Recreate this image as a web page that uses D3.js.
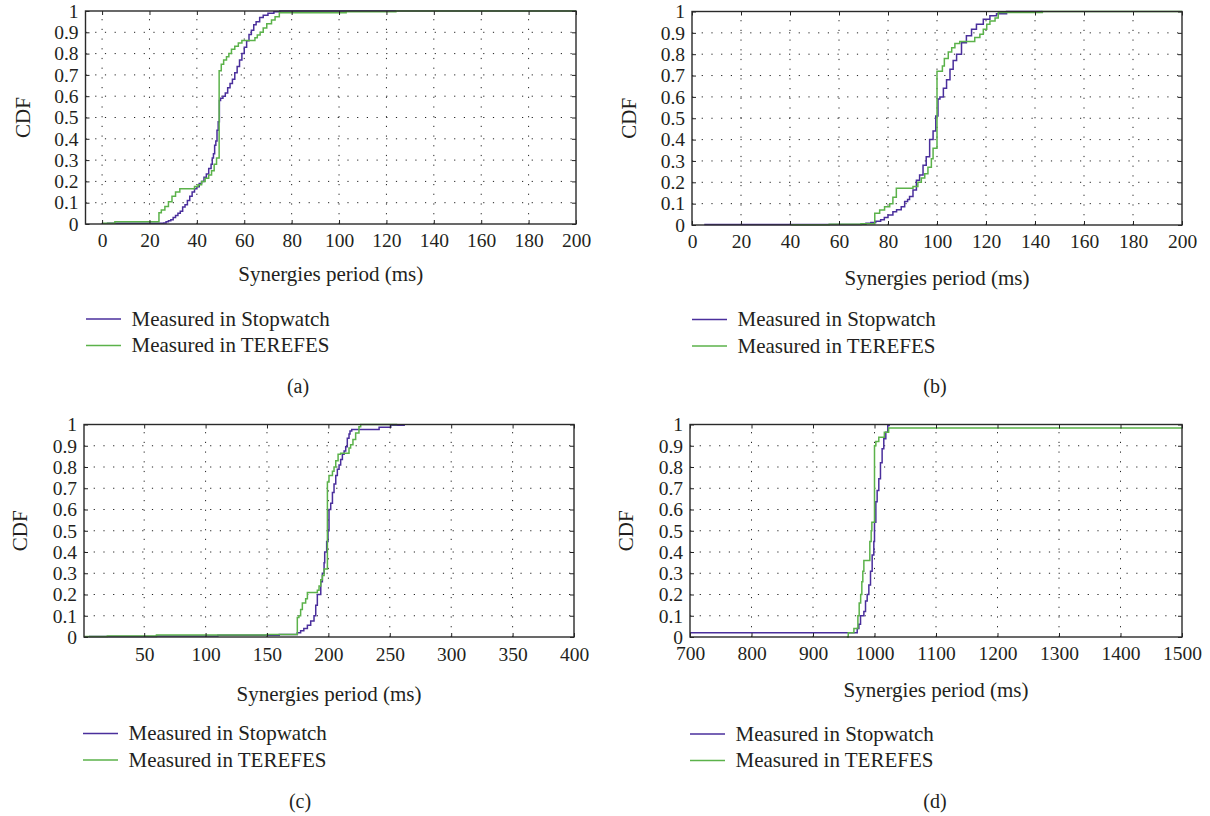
<!DOCTYPE html>
<html>
<head>
<meta charset="utf-8">
<script src="https://cdn.jsdelivr.net/npm/d3@7/dist/d3.min.js"></script>
<style>
  html, body { margin: 0; padding: 0; background: #fff; }
  svg { display: block; }
  text { font-family: "Liberation Serif", "Times New Roman", serif; fill: #231f20; }
</style>
</head>
<body>
<svg id="chart" width="1210" height="816"></svg>
<script>
// ---- Step points of the empirical CDFs (period in ms, cumulative fraction) ----

// (a) 50 ms period
const aStopX = [2, 26, 27, 28, 29, 30, 31, 32, 33, 34, 35, 36, 37, 38, 39, 40, 41, 42, 43, 44, 45, 46, 46.5, 47, 47.5, 48, 48.5, 49, 49.5, 50, 51, 52, 53, 54, 55, 56, 57, 58, 59, 60, 61, 62, 63, 64, 65, 66.5, 68, 70, 72.5, 75, 124];
const aStopY = [0.003, 0.005, 0.01, 0.015, 0.02, 0.03, 0.04, 0.05, 0.06, 0.08, 0.09, 0.11, 0.13, 0.15, 0.165, 0.175, 0.19, 0.2, 0.22, 0.235, 0.26, 0.28, 0.31, 0.33, 0.37, 0.39, 0.44, 0.48, 0.58, 0.59, 0.6, 0.615, 0.64, 0.66, 0.68, 0.71, 0.74, 0.77, 0.8, 0.83, 0.86, 0.89, 0.91, 0.935, 0.95, 0.97, 0.98, 0.99, 0.997, 1, 1];
const aTerX = [0, 5.4, 24, 25, 26.5, 28, 29.5, 31, 32.8, 39, 40.5, 42, 43.5, 45, 46.2, 47.3, 48.3, 49.4, 50.3, 51.3, 52.5, 53.5, 54.6, 56, 57.5, 59, 64.5, 65.5, 66.7, 68, 69.5, 71.5, 73, 74.8, 103, 124, 200];
const aTerY = [0.003, 0.01, 0.053, 0.066, 0.082, 0.105, 0.13, 0.15, 0.166, 0.176, 0.184, 0.2, 0.215, 0.23, 0.25, 0.28, 0.31, 0.72, 0.75, 0.77, 0.785, 0.8, 0.82, 0.835, 0.85, 0.862, 0.875, 0.887, 0.9, 0.92, 0.94, 0.958, 0.973, 0.992, 0.996, 1, 1];

// (b) 100 ms period
const bStopX = [5, 69, 71, 73, 75, 77, 78.5, 80, 82, 83.5, 85.4, 86.8, 88, 88.8, 90.2, 91.6, 92.9, 94.3, 95.6, 97, 98.4, 99.5, 100.4, 101.2, 102.6, 103.9, 105.3, 106.6, 108, 110, 112, 114.1, 116.1, 118.9, 121.6, 124.3, 128.4, 143];
const bStopY = [0.002, 0.004, 0.008, 0.012, 0.018, 0.025, 0.035, 0.047, 0.062, 0.072, 0.086, 0.11, 0.12, 0.133, 0.164, 0.21, 0.234, 0.28, 0.32, 0.4, 0.44, 0.51, 0.59, 0.6, 0.64, 0.68, 0.73, 0.77, 0.8, 0.854, 0.886, 0.917, 0.94, 0.964, 0.98, 0.99, 1, 1];
const bTerX = [40.5, 56, 69, 74.6, 76.6, 78.6, 80.7, 82, 83.4, 90.2, 92.2, 93.6, 95, 96.3, 97.7, 98.4, 100, 102.2, 103, 104.6, 106, 107.3, 109.3, 115.4, 117.5, 118.9, 120.3, 121.6, 123.7, 125, 143, 200];
const bTerY = [0.001, 0.003, 0.006, 0.055, 0.07, 0.085, 0.1, 0.13, 0.172, 0.18, 0.2, 0.22, 0.24, 0.27, 0.31, 0.36, 0.72, 0.745, 0.78, 0.81, 0.83, 0.85, 0.86, 0.878, 0.893, 0.917, 0.94, 0.956, 0.97, 0.995, 1, 1];

// (c) 200 ms period
const cStopX = [5, 60, 110, 160, 174.7, 177.4, 180, 182.9, 185.6, 188.3, 189.7, 191, 193.8, 195.1, 196.5, 197, 198.6, 199.7, 200.5, 201.9, 203.3, 204.6, 206, 207.3, 208.7, 210, 211.4, 212.8, 214.1, 215.4, 216.8, 217.6, 219, 241.3, 250.8, 261.7];
const cStopY = [0.002, 0.005, 0.008, 0.012, 0.02, 0.03, 0.04, 0.055, 0.075, 0.1, 0.15, 0.2, 0.26, 0.3, 0.35, 0.4, 0.45, 0.5, 0.6, 0.63, 0.68, 0.72, 0.76, 0.79, 0.81, 0.835, 0.86, 0.875, 0.895, 0.935, 0.955, 0.97, 0.976, 0.987, 0.997, 1];
const cTerX = [1, 20, 60, 150, 174.7, 176, 177.4, 178.8, 181.5, 182.9, 191, 192.4, 193.8, 195.1, 196.5, 199.2, 200.5, 203.3, 204.6, 206, 207.9, 210, 216.8, 218.1, 220, 222.2, 224.9, 226.3, 256];
const cTerY = [0.002, 0.005, 0.01, 0.012, 0.092, 0.1, 0.13, 0.16, 0.18, 0.21, 0.22, 0.24, 0.27, 0.29, 0.32, 0.73, 0.76, 0.78, 0.8, 0.83, 0.86, 0.865, 0.89, 0.905, 0.93, 0.96, 0.99, 1, 1];

// (d) 1000 ms period
const dStopX = [700, 971.9, 974.6, 977.3, 982.7, 985.4, 988.1, 990.8, 993.5, 996.2, 998.9, 1000, 1002.2, 1004.3, 1007, 1009.7, 1012.4, 1015.1, 1018.4, 1021.6, 1023.8];
const dStopY = [0.02, 0.04, 0.06, 0.1, 0.12, 0.17, 0.2, 0.245, 0.31, 0.386, 0.45, 0.54, 0.636, 0.69, 0.745, 0.82, 0.886, 0.933, 0.964, 0.995, 1];
const dTerX = [955, 957.3, 966.5, 973, 975.1, 977.5, 979.4, 981, 982.7, 992.4, 994.6, 995.7, 1000, 1002.2, 1007, 1016, 1023, 1500];
const dTerY = [0, 0.02, 0.04, 0.1, 0.16, 0.2, 0.26, 0.31, 0.36, 0.45, 0.5, 0.54, 0.9, 0.92, 0.94, 0.964, 0.983, 0.983];

// ---- Ticks and labels ----
const yTicks = [0, 0.1, 0.2, 0.3, 0.4, 0.5, 0.6, 0.7, 0.8, 0.9, 1];
const yTickLabels = ["0", "0.1", "0.2", "0.3", "0.4", "0.5", "0.6", "0.7", "0.8", "0.9", "1"];
const xTicksAB = [0, 20, 40, 60, 80, 100, 120, 140, 160, 180, 200];
const xTicksC = [50, 100, 150, 200, 250, 300, 350, 400];
const xTicksD = [700, 800, 900, 1000, 1100, 1200, 1300, 1400, 1500];
const seriesNames = ["Measured in Stopwatch", "Measured in TEREFES"];
const seriesColors = ["#4a2f9c", "#5bb24a"];
const xTitle = "Synergies period (ms)";
const yTitle = "CDF";
const captions = ["(a)", "(b)", "(c)", "(d)"];

// ---- Panel layout ----
const panels = [
  { box: [85.5, 11, 576, 224], xDomain: [-7, 200], xTicks: xTicksAB,
    series: [[aStopX, aStopY], [aTerX, aTerY]],
    yTitleX: 23, xTitleY: 281, tickBase: 23, legendX: 86, legendY: 319, capX: 298, capY: 393, cap: captions[0] },
  { box: [692, 11.5, 1182, 225], xDomain: [0, 200], xTicks: xTicksAB,
    series: [[bStopX, bStopY], [bTerX, bTerY]],
    yTitleX: 629, xTitleY: 285, tickBase: 23, legendX: 692, legendY: 319.5, capX: 935, capY: 393, cap: captions[1] },
  { box: [84, 424.5, 574, 637], xDomain: [1, 400], xTicks: xTicksC,
    series: [[cStopX, cStopY], [cTerX, cTerY]],
    yTitleX: 20, xTitleY: 701, tickBase: 24, legendX: 83, legendY: 733.5, capX: 300, capY: 808, cap: captions[2] },
  { box: [690, 424.5, 1182, 637], xDomain: [700, 1500], xTicks: xTicksD,
    series: [[dStopX, dStopY], [dTerX, dTerY]],
    yTitleX: 626, xTitleY: 697, tickBase: 23, legendX: 690, legendY: 734, capX: 935, capY: 808, cap: captions[3] }
];

const svg = d3.select("#chart");
const TICK_FONT = 19.5, LABEL_FONT = 21, CAPTION_FONT = 20;
const SERIF = "Liberation Serif, Times New Roman, serif";

function drawPanel(p) {
  const [x0, y0, x1, y1] = p.box;
  const w = x1 - x0, h = y1 - y0;
  const g = svg.append("g").attr("transform", `translate(${x0},${y0})`);

  const x = d3.scaleLinear().domain(p.xDomain).range([0, w]);
  const y = d3.scaleLinear().domain([0, 1]).range([h, 0]);

  // dotted grid
  const grid = g.append("g").attr("stroke", "#222").attr("stroke-width", 1)
    .attr("stroke-dasharray", "1.2,8.5");
  grid.selectAll("line.v").data(p.xTicks.filter(t => x(t) > 1 && x(t) < w - 1)).join("line")
    .attr("class", "v").attr("x1", d => x(d)).attr("x2", d => x(d)).attr("y1", h).attr("y2", 0);
  grid.selectAll("line.h").data(yTicks.filter(t => t > 0 && t < 1)).join("line")
    .attr("class", "h").attr("x1", 0).attr("x2", w).attr("y1", d => y(d)).attr("y2", d => y(d));

  // CDF step curves
  const line = d3.line().curve(d3.curveStepAfter).x(d => x(d[0])).y(d => y(d[1]));
  p.series.forEach((s, i) => {
    const pts = s[0].map((v, k) => [v, s[1][k]]);
    g.append("path").datum(pts).attr("d", line)
      .attr("fill", "none").attr("stroke", seriesColors[i]).attr("stroke-width", 1.5)
      .attr("stroke-linejoin", "miter");
  });

  // axes with inward ticks on all four sides
  const bottom = g.append("g").attr("transform", `translate(0,${h})`)
    .call(d3.axisBottom(x).tickValues(p.xTicks).tickFormat(d => String(d))
      .tickSizeInner(-4).tickSizeOuter(0).tickPadding(p.tickBase - 0.71 * TICK_FONT));
  const left = g.append("g")
    .call(d3.axisLeft(y).tickValues(yTicks).tickFormat((d, i) => yTickLabels[i])
      .tickSizeInner(-4).tickSizeOuter(0).tickPadding(7));
  const top = g.append("g")
    .call(d3.axisTop(x).tickValues(p.xTicks).tickSizeInner(-4).tickSizeOuter(0).tickFormat(""));
  const right = g.append("g").attr("transform", `translate(${w},0)`)
    .call(d3.axisRight(y).tickValues(yTicks).tickSizeInner(-4).tickSizeOuter(0).tickFormat(""));
  [bottom, left, top, right].forEach(a => {
    a.attr("font-family", SERIF);
    a.select(".domain").remove();
    a.selectAll(".tick line").attr("stroke", "#222").attr("stroke-width", 1);
    a.selectAll(".tick text").attr("font-size", TICK_FONT).attr("font-family", SERIF).attr("fill", "#231f20");
  });

  // frame
  g.append("rect").attr("x", 0).attr("y", 0).attr("width", w).attr("height", h)
    .attr("fill", "none").attr("stroke", "#2a2a2a").attr("stroke-width", 1.4);

  // axis titles
  svg.append("text").attr("transform", `translate(${p.yTitleX},${y0 + h / 2}) rotate(-90)`)
    .attr("text-anchor", "middle").attr("dy", "0.35em").attr("font-family", SERIF)
    .attr("font-size", LABEL_FONT).text(yTitle);
  svg.append("text").attr("x", x0 + w / 2).attr("y", p.xTitleY)
    .attr("text-anchor", "middle").attr("font-family", SERIF).attr("font-size", LABEL_FONT).text(xTitle);

  // legend
  seriesNames.forEach((name, i) => {
    const ly = p.legendY + i * 26.5;
    svg.append("line").attr("x1", p.legendX).attr("x2", p.legendX + 35)
      .attr("y1", ly).attr("y2", ly).attr("stroke", seriesColors[i]).attr("stroke-width", 1.5);
    svg.append("text").attr("x", p.legendX + 45.5).attr("y", ly + 6.5)
      .attr("font-family", SERIF).attr("font-size", LABEL_FONT).text(name);
  });

  // caption
  svg.append("text").attr("x", p.capX).attr("y", p.capY)
    .attr("text-anchor", "middle").attr("font-family", SERIF).attr("font-size", CAPTION_FONT).text(p.cap);
}

panels.forEach(drawPanel);
</script>
</body>
</html>
